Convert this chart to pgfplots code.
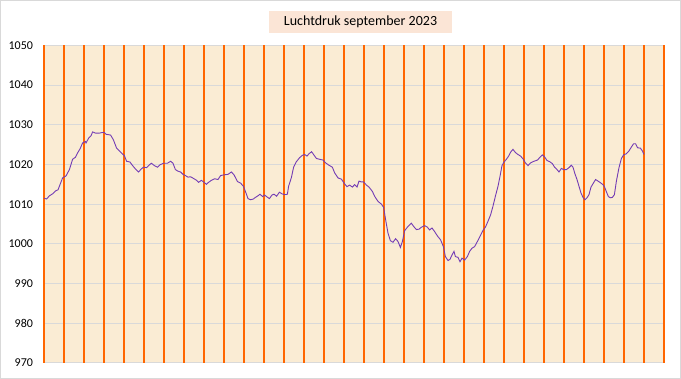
\documentclass[border=0pt]{standalone}
\usepackage{pgfplots}
\pgfplotsset{compat=1.18}
\usepackage{fontspec}
\setmainfont{Carlito}
\definecolor{plotbg}{RGB}{250,236,212}
\definecolor{dayline}{RGB}{255,102,0}
\definecolor{gridgray}{RGB}{217,217,217}
\definecolor{linepurple}{RGB}{115,60,180}
\definecolor{titlebg}{RGB}{251,229,214}
\definecolor{frame}{RGB}{217,217,217}
\begin{document}
\begin{tikzpicture}
\path[use as bounding box] (0pt,0pt) rectangle (681pt,379pt);
\begin{axis}[
  at={(44pt,16pt)}, anchor=south west,
  scale only axis, width=620pt, height=317.7pt,
  xmin=0, xmax=31, ymin=970, ymax=1050,
  axis background/.style={fill=plotbg},
  axis line style={draw=none},
  xtick=\empty,
  extra x ticks={0,1,...,31},
  extra x tick labels={},
  extra x tick style={xmajorgrids=true, major tick length=0pt,
     major grid style={draw=dayline, line width=1.2pt}},
  ytick={970,980,...,1050},
  ymajorgrids=true,
  major grid style={draw=gridgray, line width=1pt},
  major tick length=0pt,
  /pgf/number format/assume math mode=true,
  /pgf/number format/1000 sep={},
  yticklabel style={font=\fontsize{12}{14}\selectfont, text=black, anchor=east, xshift=-7.5pt},
  clip=false,
]
\addplot[linepurple, line width=0.9pt] table {
x y
0 1011.5
0.13 1011.3
0.27 1012.1
0.43 1012.6
0.6 1013.4
0.7 1013.6
0.8 1014.9
0.93 1016.6
1.1 1017.1
1.27 1018.7
1.43 1021.3
1.57 1021.8
1.68 1022.9
1.8 1023.9
1.93 1025.4
2.07 1025.8
2.1 1025.4
2.23 1026.6
2.35 1027.2
2.43 1028.2
2.57 1027.9
2.77 1027.9
3.0 1028.1
3.1 1027.6
3.33 1027.4
3.47 1026.2
3.63 1024.1
3.85 1023.0
4.02 1022.2
4.13 1020.8
4.3 1020.6
4.43 1019.7
4.6 1018.7
4.73 1018.1
4.85 1018.8
4.97 1019.3
5.13 1019.2
5.27 1019.9
5.37 1020.3
5.52 1019.7
5.68 1019.3
5.8 1019.9
5.97 1020.3
6.17 1020.3
6.33 1020.8
6.45 1020.3
6.57 1018.7
6.7 1018.3
6.83 1018.1
6.95 1017.5
7.07 1017.2
7.2 1016.8
7.33 1016.9
7.5 1016.4
7.63 1016.0
7.73 1015.5
7.87 1016.0
8.0 1015.5
8.12 1015.0
8.23 1015.5
8.37 1016.0
8.53 1016.4
8.7 1016.2
8.83 1017.2
9.03 1017.4
9.2 1017.5
9.37 1018.1
9.5 1017.4
9.67 1015.7
9.83 1015.3
9.97 1014.5
10.1 1012.8
10.2 1011.4
10.33 1011.1
10.47 1011.3
10.57 1011.7
10.7 1012.1
10.8 1012.5
10.93 1011.9
11.03 1012.3
11.13 1011.9
11.27 1011.4
11.4 1012.3
11.5 1012.5
11.63 1012.0
11.77 1013.0
11.9 1012.6
12.03 1012.4
12.17 1012.5
12.23 1014.5
12.37 1016.7
12.48 1019.3
12.62 1020.7
12.78 1021.7
12.92 1022.3
13.03 1022.5
13.15 1022.1
13.25 1022.7
13.38 1023.2
13.48 1022.5
13.62 1021.5
13.78 1021.3
13.95 1021.1
14.08 1020.4
14.25 1019.8
14.42 1019.3
14.53 1017.9
14.7 1016.6
14.87 1016.3
15.03 1015.1
15.15 1014.4
15.28 1014.8
15.42 1014.3
15.53 1014.9
15.65 1014.3
15.75 1015.8
15.87 1015.6
15.98 1015.6
16.12 1014.8
16.25 1014.3
16.42 1013.2
16.53 1012.0
16.7 1010.7
16.87 1010.0
16.98 1009.2
17.08 1006.1
17.2 1002.7
17.32 1000.8
17.45 1000.4
17.58 1001.3
17.7 1000.6
17.82 999.1
17.92 1000.6
18.03 1003.3
18.2 1004.4
18.37 1005.2
18.48 1004.4
18.62 1003.6
18.75 1003.7
18.87 1004.2
19.03 1004.6
19.17 1004.2
19.28 1003.5
19.4 1004.0
19.53 1003.1
19.67 1002.0
19.83 1001.0
19.97 999.3
20.07 996.8
20.2 995.8
20.3 996.1
20.4 997.2
20.5 998.1
20.57 996.8
20.7 996.6
20.8 995.5
20.9 996.4
21.03 995.9
21.17 996.8
21.28 998.1
21.4 998.9
21.53 999.3
21.67 1000.6
21.8 1001.9
21.95 1003.4
22.07 1004.2
22.2 1005.7
22.33 1007.3
22.45 1009.5
22.57 1012.0
22.7 1014.5
22.8 1017.0
22.9 1019.7
23.0 1020.6
23.12 1021.3
23.23 1022.1
23.33 1023.1
23.45 1023.8
23.57 1023.0
23.7 1022.5
23.83 1022.1
23.95 1021.4
24.07 1020.4
24.2 1019.7
24.33 1020.4
24.5 1020.8
24.67 1021.1
24.8 1021.8
24.92 1022.4
25.03 1021.9
25.15 1021.0
25.28 1020.7
25.42 1020.2
25.53 1019.3
25.65 1018.7
25.75 1018.1
25.87 1019.0
25.98 1018.7
26.12 1018.7
26.25 1019.2
26.37 1019.8
26.45 1019.3
26.55 1017.6
26.65 1016.2
26.75 1014.5
26.85 1012.8
26.95 1011.7
27.05 1011.1
27.15 1011.6
27.25 1012.4
27.35 1014.3
27.48 1015.4
27.58 1016.2
27.7 1015.8
27.82 1015.4
27.95 1014.9
28.03 1014.3
28.12 1013.1
28.22 1011.9
28.32 1011.6
28.42 1011.7
28.52 1012.4
28.62 1015.8
28.75 1019.2
28.87 1021.5
28.98 1022.4
29.12 1022.7
29.25 1023.4
29.37 1024.4
29.48 1025.2
29.58 1025.2
29.68 1024.2
29.82 1024.1
29.92 1023.4
30.0 1022.5
};
\end{axis}
\node[fill=titlebg, minimum width=183pt, minimum height=22pt, inner sep=0pt,
      font=\fontsize{14}{16}\selectfont] at (360.5pt,357pt) {Luchtdruk september 2023};
\draw[frame, line width=1pt] (0.5pt,0.5pt) rectangle (680.5pt,378.5pt);
\end{tikzpicture}
\end{document}
